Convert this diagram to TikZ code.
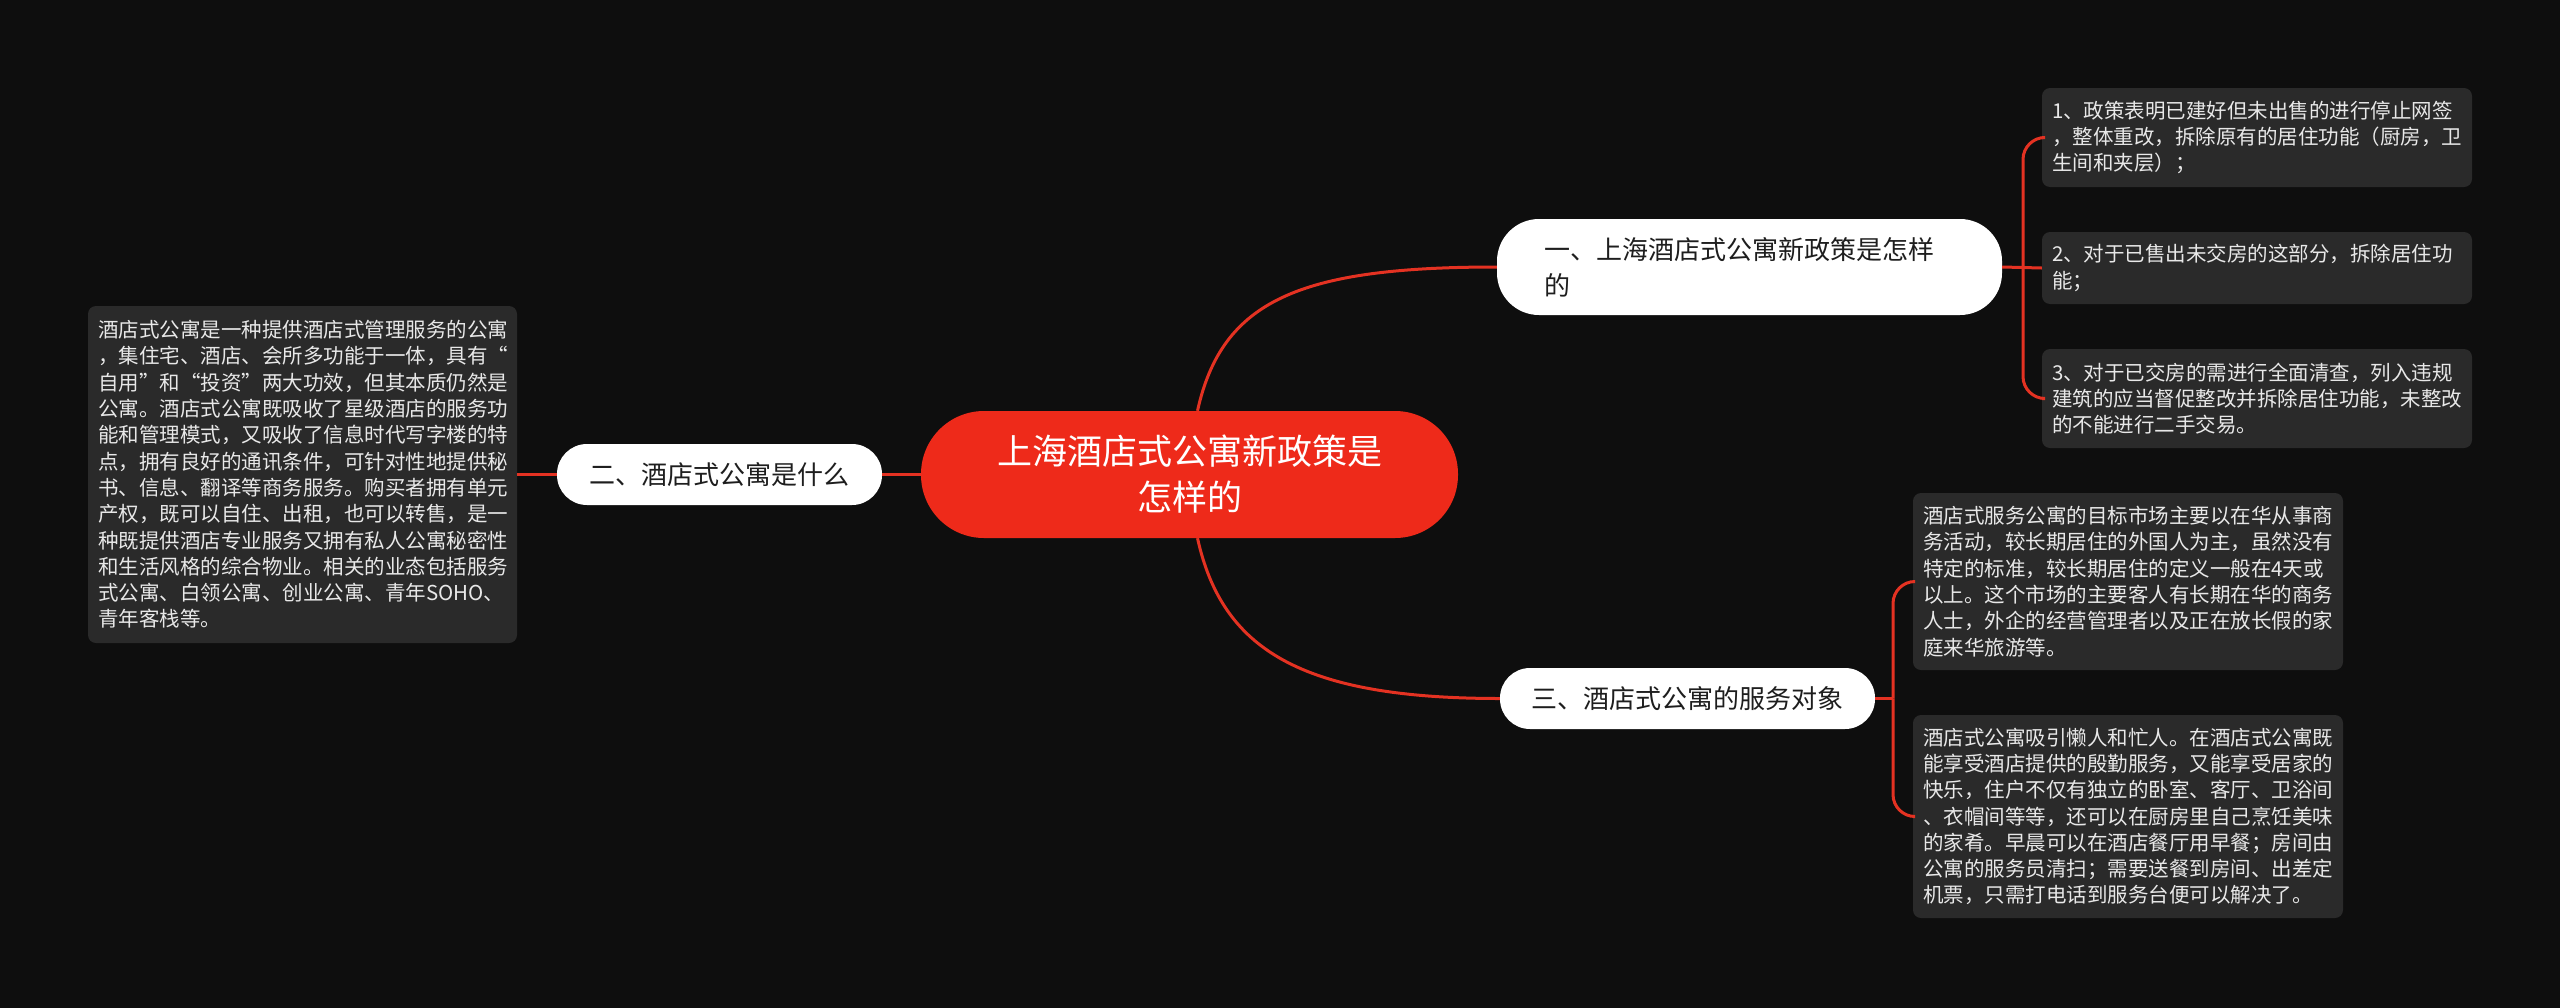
\documentclass[tikz,border=0pt]{standalone}
\usepackage{fontspec}
\setmainfont{Noto Sans CJK SC}
\usetikzlibrary{calc}
\definecolor{bg}{RGB}{14,14,14}
\definecolor{rootred}{RGB}{238,42,26}
\definecolor{linered}{RGB}{228,50,34}
\definecolor{leaffill}{RGB}{42,42,42}
\definecolor{leaftext}{RGB}{232,232,232}
\definecolor{branchtext}{RGB}{30,30,30}
\begin{document}
\begin{tikzpicture}[x=1pt,y=-1pt,
 leaf/.style={fill=leaffill, text=leaftext, rounded corners=8pt, inner sep=0pt, align=left,
   font=\fontsize{20.5pt}{26.3pt}\selectfont},
 branch/.style={fill=white, text=branchtext, inner sep=0pt,
   font=\fontsize{26pt}{36pt}\selectfont},
 rootnode/.style={fill=rootred, text=white, inner sep=0pt, align=center, rounded corners=63pt,
   font=\fontsize{35pt}{46pt}\selectfont, minimum width=537pt, minimum height=127pt},
 conn/.style={draw=linered, line width=3pt}]
\useasboundingbox (0,0) rectangle (2560,1007);
\fill[bg] (-6,-6) rectangle (2566,1013);

% root
\node[rootnode] (root) at (1189.5,474.5) {上海酒店式公寓新政策是\\怎样的};

% branches
\node[branch, rounded corners=42pt, minimum width=505pt, minimum height=96pt, text width=410pt, align=left]
  (b1) at (1749.5,267) {一、上海酒店式公寓新政策是怎样\\的};
\node[branch, rounded corners=30pt, minimum width=325pt, minimum height=61pt]
  (b2) at (719.5,474.5) {二、酒店式公寓是什么};
\node[branch, rounded corners=30pt, minimum width=375pt, minimum height=61pt]
  (b3) at (1687.5,698.5) {三、酒店式公寓的服务对象};

% left leaf
\node[leaf, minimum width=429pt, minimum height=337pt, text width=409pt] (L) at (302.5,474.5)
 {酒店式公寓是一种提供酒店式管理服务的公寓\\
 ，集住宅、酒店、会所多功能于一体，具有“\\
 自用”和“投资”两大功效，但其本质仍然是\\
 公寓。酒店式公寓既吸收了星级酒店的服务功\\
 能和管理模式，又吸收了信息时代写字楼的特\\
 点，拥有良好的通讯条件，可针对性地提供秘\\
 书、信息、翻译等商务服务。购买者拥有单元\\
 产权，既可以自住、出租，也可以转售，是一\\
 种既提供酒店专业服务又拥有私人公寓秘密性\\
 和生活风格的综合物业。相关的业态包括服务\\
 式公寓、白领公寓、创业公寓、青年SOHO、\\
 青年客栈等。};

% right leaves of b1
\node[leaf, minimum width=430pt, minimum height=99pt, text width=410pt] (R1) at (2257,137.5)
 {1、政策表明已建好但未出售的进行停止网签\\
 ，整体重改，拆除原有的居住功能（厨房，卫\\
 生间和夹层）；};
\node[leaf, minimum width=430pt, minimum height=72pt, text width=410pt] (R2) at (2257,268)
 {2、对于已售出未交房的这部分，拆除居住功\\
 能；};
\node[leaf, minimum width=430pt, minimum height=99pt, text width=410pt] (R3) at (2257,398.5)
 {3、对于已交房的需进行全面清查，列入违规\\
 建筑的应当督促整改并拆除居住功能，未整改\\
 的不能进行二手交易。};

% right leaves of b3
\node[leaf, minimum width=430pt, minimum height=177pt, text width=410pt] (RA) at (2128,581.5)
 {酒店式服务公寓的目标市场主要以在华从事商\\
 务活动，较长期居住的外国人为主，虽然没有\\
 特定的标准，较长期居住的定义一般在4天或\\
 以上。这个市场的主要客人有长期在华的商务\\
 人士，外企的经营管理者以及正在放长假的家\\
 庭来华旅游等。};
\node[leaf, minimum width=430pt, minimum height=203pt, text width=410pt] (RB) at (2128,816.5)
 {酒店式公寓吸引懒人和忙人。在酒店式公寓既\\
 能享受酒店提供的殷勤服务，又能享受居家的\\
 快乐，住户不仅有独立的卧室、客厅、卫浴间\\
 、衣帽间等等，还可以在厨房里自己烹饪美味\\
 的家肴。早晨可以在酒店餐厅用早餐；房间由\\
 公寓的服务员清扫；需要送餐到房间、出差定\\
 机票，只需打电话到服务台便可以解决了。};

% connectors
\draw[conn] ($(root.north)+(8,0)$) .. controls (1222,300) and (1300,267) .. (b1.west);
\draw[conn] ($(root.south)+(8,0)$) .. controls (1222,649) and (1300,698.5) .. (b3.west);
\draw[conn] (root.west) -- (b2.east);
\draw[conn] (b2.west) -- (L.east);

\draw[conn] (b1.east) -- (R2.west);
\coordinate (j1) at (2023,267);
\draw[conn, rounded corners=22pt] (j1) |- (R1.west);
\draw[conn, rounded corners=22pt] (j1) |- (R3.west);

\coordinate (j3) at (1893,698.5);
\draw[conn] (b3.east) -- (j3);
\draw[conn, rounded corners=22pt] (j3) |- (RA.west);
\draw[conn, rounded corners=22pt] (j3) |- (RB.west);
\end{tikzpicture}
\end{document}
